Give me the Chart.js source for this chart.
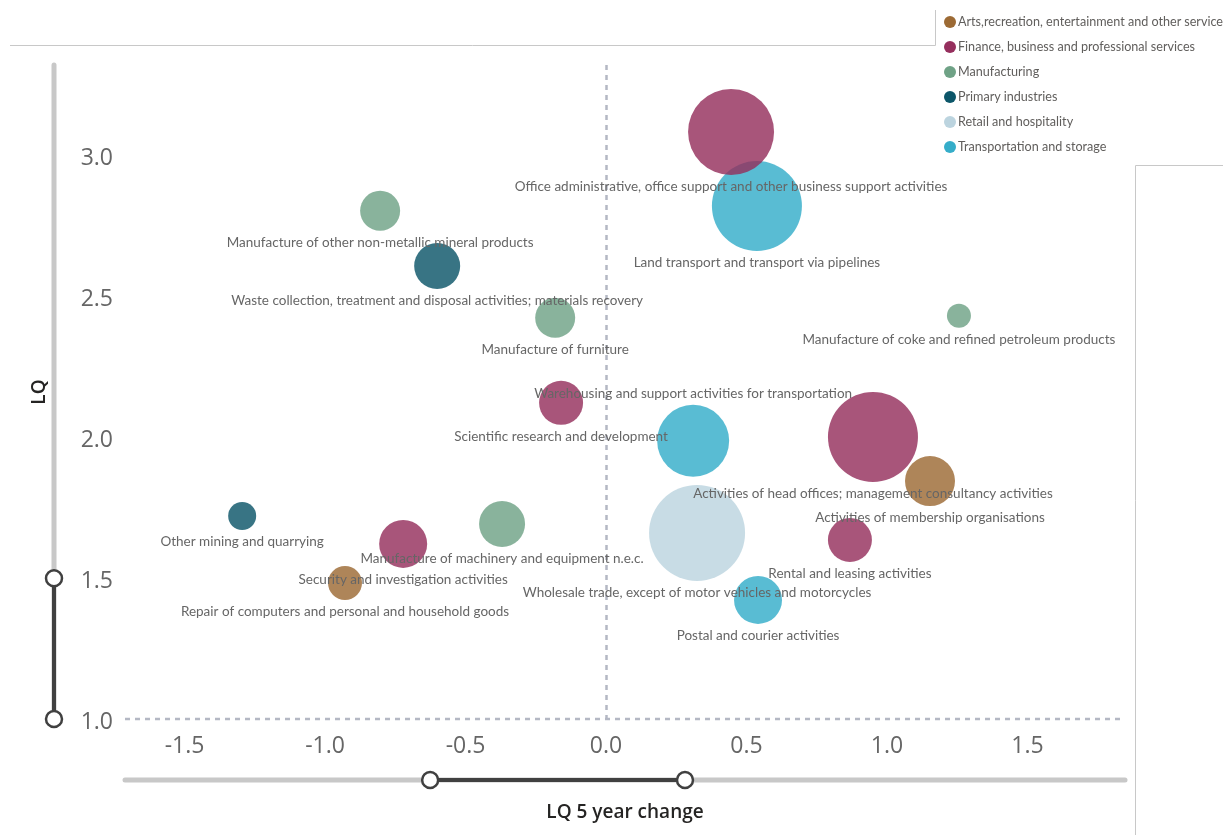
<!DOCTYPE html>
<html>
<head>
<meta charset="utf-8">
<script src="https://cdn.jsdelivr.net/npm/chart.js@4.4.1/dist/chart.umd.min.js"></script>
<style>
  html, body { margin: 0; padding: 0; background: #fff; }
  #wrap { position: relative; width: 1223px; height: 835px; overflow: hidden; }
  #legend { position: absolute; left: 944px; top: 9px; font-family: Lato, "Open Sans", sans-serif; font-size: 12.6px; color: #605e5c; }
  #legend .row { height: 25px; display: flex; align-items: center; white-space: nowrap; }
  #legend .dot { width: 12px; height: 12px; border-radius: 50%; margin-right: 2px; flex: none; }
</style>
</head>
<body>
<div id="wrap">
  <canvas id="c" width="1223" height="835"></canvas>
  <div id="legend"></div>
</div>
<script>
// ---- Data ----
const categories = [
  "Arts,recreation, entertainment and other services",
  "Finance, business and professional services",
  "Manufacturing",
  "Primary industries",
  "Retail and hospitality",
  "Transportation and storage"
];
const categoryColors = ["#9c6a34", "#952f5d", "#6fa286", "#0c5669", "#bcd4df", "#35adc9"];

const industryNames = [
  "Office administrative, office support and other business support activities",
  "Land transport and transport via pipelines",
  "Manufacture of other non-metallic mineral products",
  "Waste collection, treatment and disposal activities; materials recovery",
  "Manufacture of furniture",
  "Manufacture of coke and refined petroleum products",
  "Scientific research and development",
  "Warehousing and support activities for transportation",
  "Activities of head offices; management consultancy activities",
  "Activities of membership organisations",
  "Other mining and quarrying",
  "Manufacture of machinery and equipment n.e.c.",
  "Security and investigation activities",
  "Wholesale trade, except of motor vehicles and motorcycles",
  "Rental and leasing activities",
  "Repair of computers and personal and household goods",
  "Postal and courier activities"
];
const industryCategory = [1, 5, 2, 3, 2, 2, 1, 5, 1, 0, 3, 2, 1, 4, 1, 0, 5];
const lqChange = [0.445, 0.537, -0.804, -0.601, -0.181, 1.256, -0.160, 0.310, 0.950, 1.153, -1.295, -0.370, -0.722, 0.324, 0.868, -0.929, 0.541];
const lqValue  = [3.085, 2.822, 2.805, 2.609, 2.425, 2.432, 2.123, 1.988, 2.002, 1.845, 1.721, 1.693, 1.622, 1.661, 1.636, 1.483, 1.423];
const bubbleSize = [43, 45, 20, 23, 20, 12, 22, 36, 45, 25, 14, 23, 24, 48, 22, 17, 24];
const labelAbove = [false, false, false, false, false, false, false, true, false, false, false, false, false, false, false, false, false];

const xTickValues = [-1.5, -1.0, -0.5, 0.0, 0.5, 1.0, 1.5];
const yTickValues = [1.0, 1.5, 2.0, 2.5, 3.0];
const xRange = [-1.712, 1.847];
const yRange = [1.0, 3.323];
const xSliderRange = [-0.626, 0.281];
const ySliderRange = [1.0, 1.5];

// ---- Legend (HTML text) ----
const legendEl = document.getElementById('legend');
categories.forEach((c, i) => {
  const row = document.createElement('div'); row.className = 'row';
  const dot = document.createElement('span'); dot.className = 'dot'; dot.style.background = categoryColors[i];
  const t = document.createElement('span'); t.textContent = c;
  row.appendChild(dot); row.appendChild(t); legendEl.appendChild(row);
});

function hexA(hex, a) {
  const n = parseInt(hex.slice(1), 16);
  return `rgba(${(n >> 16) & 255},${(n >> 8) & 255},${n & 255},${a})`;
}

const datasets = categories.map((c, ci) => {
  const idx = industryCategory.map((k, i) => k === ci ? i : -1).filter(i => i >= 0);
  return {
    label: c,
    data: idx.map(i => ({ x: lqChange[i], y: lqValue[i], r: bubbleSize[i], name: industryNames[i], above: labelAbove[i] })),
    backgroundColor: hexA(categoryColors[ci], 0.82),
    borderWidth: 0,
    hoverRadius: 0,
    clip: false
  };
});

const tickFont = { family: "'Open Sans', sans-serif", size: 23 };
const titleFont = { family: "'Open Sans', sans-serif", size: 19, weight: '600' };

const decoPlugin = {
  id: 'deco',
  beforeDatasetsDraw(chart) {
    const { ctx, chartArea: a, scales: { x, y } } = chart;
    ctx.save();
    ctx.strokeStyle = '#b4b8c4';
    ctx.lineWidth = 2.5;
    ctx.setLineDash([5, 5]);
    const x0 = Math.round(x.getPixelForValue(0)) + 0.5;
    ctx.beginPath(); ctx.moveTo(x0, a.top); ctx.lineTo(x0, a.bottom); ctx.stroke();
    const y1 = y.getPixelForValue(yRange[0]);
    ctx.beginPath(); ctx.moveTo(a.left, y1); ctx.lineTo(a.right, y1); ctx.stroke();
    ctx.restore();
  },
  afterDatasetsDraw(chart) {
    const { ctx } = chart;
    ctx.save();
    ctx.font = "13.5px Lato, 'Open Sans', sans-serif";
    ctx.fillStyle = '#666666';
    ctx.textAlign = 'center';
    ctx.textBaseline = 'middle';
    chart.data.datasets.forEach((ds, di) => {
      const meta = chart.getDatasetMeta(di);
      meta.data.forEach((el, j) => {
        const d = ds.data[j];
        const r = el.options.radius;
        const ty = d.above ? el.y - r - 11 : el.y + r + 12;
        ctx.fillText(d.name, el.x, ty);
      });
    });
    ctx.restore();
  },
  afterDraw(chart) {
    const { ctx, chartArea: a, scales: { x, y } } = chart;
    ctx.save();
    ctx.lineCap = 'round';
    // vertical slider
    const sx = 54;
    ctx.strokeStyle = '#c8c8c8'; ctx.lineWidth = 5;
    ctx.beginPath(); ctx.moveTo(sx, a.top); ctx.lineTo(sx, a.bottom); ctx.stroke();
    const ya = y.getPixelForValue(ySliderRange[0]), yb = y.getPixelForValue(ySliderRange[1]);
    ctx.strokeStyle = '#404040'; ctx.lineWidth = 4;
    ctx.beginPath(); ctx.moveTo(sx, ya); ctx.lineTo(sx, yb); ctx.stroke();
    // horizontal slider
    const sy = 780;
    ctx.strokeStyle = '#c8c8c8'; ctx.lineWidth = 5;
    ctx.beginPath(); ctx.moveTo(a.left, sy); ctx.lineTo(a.right, sy); ctx.stroke();
    const xa = x.getPixelForValue(xSliderRange[0]), xb = x.getPixelForValue(xSliderRange[1]);
    ctx.strokeStyle = '#404040'; ctx.lineWidth = 4;
    ctx.beginPath(); ctx.moveTo(xa, sy); ctx.lineTo(xb, sy); ctx.stroke();
    // handles
    const handles = [[sx, ya], [sx, yb], [xa, sy], [xb, sy]];
    handles.forEach(([hx, hy]) => {
      ctx.beginPath(); ctx.arc(hx, hy, 8, 0, Math.PI * 2);
      ctx.fillStyle = '#ffffff'; ctx.fill();
      ctx.strokeStyle = '#404040'; ctx.lineWidth = 2.5; ctx.stroke();
    });
    // frame lines of neighbouring panels
    ctx.lineCap = 'butt';
    ctx.strokeStyle = '#c8c8c8'; ctx.lineWidth = 1;
    ctx.beginPath(); ctx.moveTo(10, 45.5); ctx.lineTo(935.5, 45.5); ctx.lineTo(935.5, 10); ctx.stroke();
    ctx.beginPath(); ctx.moveTo(1135.5, 835); ctx.lineTo(1135.5, 165.5); ctx.lineTo(1223, 165.5); ctx.stroke();
    ctx.restore();
  }
};

new Chart(document.getElementById('c'), {
  type: 'bubble',
  data: { datasets },
  plugins: [decoPlugin],
  options: {
    responsive: false,
    animation: false,
    layout: { padding: { top: 65, right: 98, left: 0, bottom: 0 } },
    plugins: { legend: { display: false }, tooltip: { enabled: false } },
    scales: {
      x: {
        type: 'linear', min: xRange[0], max: xRange[1],
        afterBuildTicks: s => { s.ticks = xTickValues.map(v => ({ value: v })); },
        afterFit: s => { s.height = 116; },
        grid: { display: false, drawTicks: false },
        border: { display: false },
        ticks: { font: tickFont, color: '#666666', padding: 14, maxRotation: 0, callback: v => v.toFixed(1) },
        title: { display: true, text: 'LQ 5 year change', font: titleFont, color: '#252423', padding: { top: 0, bottom: 11 } }
      },
      y: {
        type: 'linear', min: yRange[0], max: yRange[1],
        afterBuildTicks: s => { s.ticks = yTickValues.map(v => ({ value: v })); },
        afterFit: s => { s.width = 125; },
        grid: { display: false, drawTicks: false },
        border: { display: false },
        ticks: { font: tickFont, color: '#666666', padding: 12, labelOffset: 3, callback: v => v.toFixed(1) },
        title: { display: true, text: 'LQ', font: titleFont, color: '#252423', padding: { top: 28, bottom: 0 } }
      }
    }
  }
});
</script>
</body>
</html>
